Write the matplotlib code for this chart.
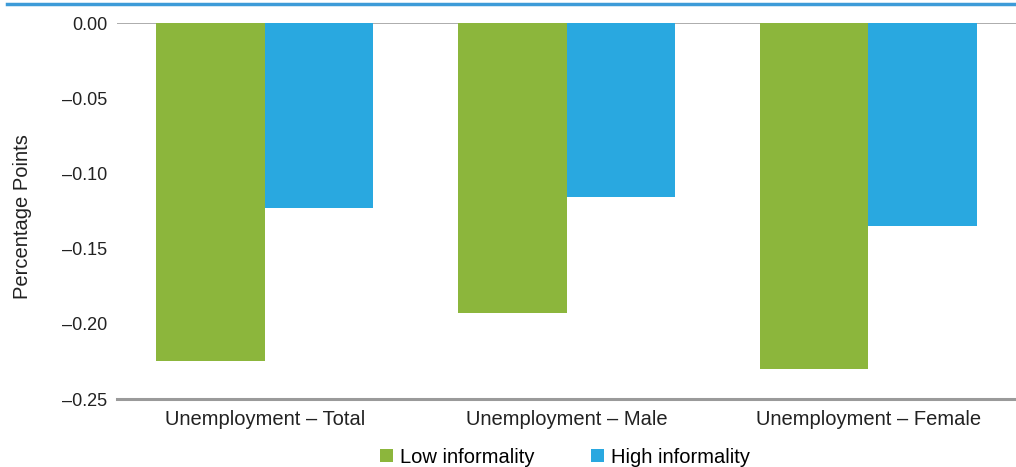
import matplotlib.pyplot as plt
import numpy as np
from matplotlib.lines import Line2D

plt.rcParams['font.family'] = ['Liberation Sans', 'DejaVu Sans']

categories = ["Unemployment \u2013 Total", "Unemployment \u2013 Male", "Unemployment \u2013 Female"]
low_informality = [-0.225, -0.193, -0.230]
high_informality = [-0.123, -0.116, -0.135]
yticks = [0.0, -0.05, -0.10, -0.15, -0.20, -0.25]
ytick_labels = ["0.00", "\u20130.05", "\u20130.10", "\u20130.15", "\u20130.20", "\u20130.25"]

green = "#8cb63c"
blue = "#29a8e0"

fig = plt.figure(figsize=(10.16, 4.67), dpi=100)
ax = fig.add_axes([0.1152, 0.1456, 0.8848, 0.8051])

x = np.arange(len(categories))
w = 0.36
ax.bar(x - w / 2, low_informality, w, color=green, label="Low informality")
ax.bar(x + w / 2, high_informality, w, color=blue, label="High informality")

ax.set_xlim(-0.49, 2.49)
ax.set_ylim(-0.25, 0.0)
ax.set_yticks(yticks)
ax.set_yticklabels(ytick_labels, fontsize=13, color="#222222")
ax.set_xticks(x)
ax.set_xticklabels(categories, fontsize=14.5, color="#222222")
ax.tick_params(axis="both", length=0)
ax.tick_params(axis="y", pad=7)
ax.tick_params(axis="x", pad=8)

for side in ["left", "right", "top"]:
    ax.spines[side].set_visible(False)
ax.spines["bottom"].set_color("#9a9a9a")
ax.spines["bottom"].set_linewidth(2.2)
ax.axhline(0.0, color="#a6a6a6", linewidth=1.3, zorder=0)

ax.set_ylabel("Percentage Points", fontsize=14.5, color="#222222")
ax.yaxis.set_label_coords(-0.095, 0.485)

# blue rule across the top
fig.add_artist(Line2D([0.007, 1.0], [1 - 4 / 467, 1 - 4 / 467], color="#3d9bd8", linewidth=2.5))

handles, labels = ax.get_legend_handles_labels()
fig.legend(handles, labels, loc="center", bbox_to_anchor=(0.556, 0.021), ncol=2,
           frameon=False, fontsize=14.5, handlelength=0.65, handleheight=0.65,
           handletextpad=0.35, columnspacing=2.8, borderaxespad=0)

fig.savefig("out.png", dpi=100)
